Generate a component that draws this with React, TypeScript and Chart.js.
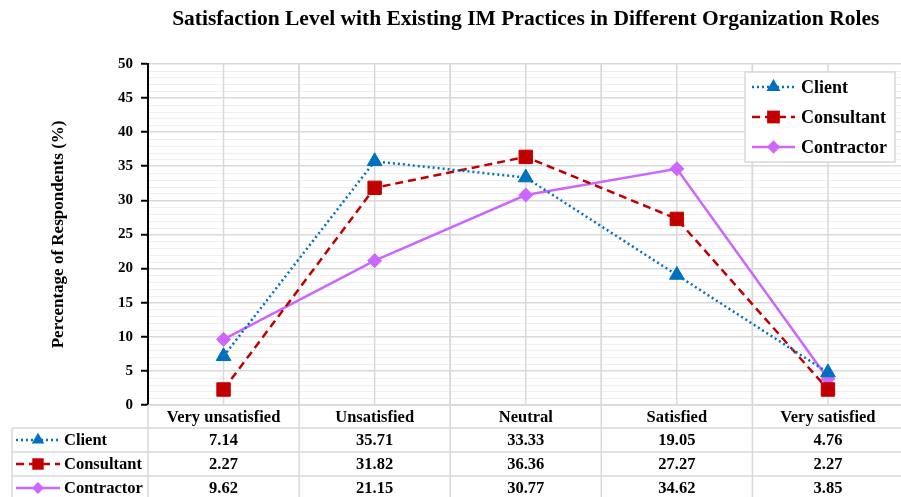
import React, { useEffect, useRef } from 'react';
import { Chart, registerables } from 'chart.js';

Chart.register(...registerables);

// ---------- data ----------
const categories = ['Very unsatisfied', 'Unsatisfied', 'Neutral', 'Satisfied', 'Very satisfied'];
const seriesNames = ['Client', 'Consultant', 'Contractor'];
const clientValues = [7.14, 35.71, 33.33, 19.05, 4.76];
const consultantValues = [2.27, 31.82, 36.36, 27.27, 2.27];
const contractorValues = [9.62, 21.15, 30.77, 34.62, 3.85];
const yMin = 0;
const yMax = 50;
const yMajorStep = 5;
const yMinorStep = 1;
const chartTitle = 'Satisfaction Level with Existing IM Practices in Different Organization Roles';
const yAxisTitle = 'Percentage of Respondents (%)';

const seriesValues = [clientValues, consultantValues, contractorValues];

// ---------- styles ----------
const FONT = '"Liberation Serif", "Times New Roman", serif';
const GRID = '#d9d9d9';
const MINOR = '#efefef';
const seriesStyles = [
  { color: '#0070C0', dash: [2, 3], point: 'triangle', radius: 8.5 },
  { color: '#C00000', dash: [8, 5], point: 'rect', radius: 9.5 },
  { color: '#CC66FF', dash: [] as number[], point: 'rectRot', radius: 7 },
];

function drawMarker(ctx: CanvasRenderingContext2D, kind: string, x: number, y: number, r: number, color: string) {
  ctx.save();
  ctx.fillStyle = color;
  ctx.beginPath();
  if (kind === 'triangle') {
    let rad = 0;
    for (let k = 0; k < 3; k++) {
      const px = x + Math.sin(rad) * r;
      const py = y - Math.cos(rad) * r;
      if (k === 0) ctx.moveTo(px, py); else ctx.lineTo(px, py);
      rad += (2 * Math.PI) / 3;
    }
    ctx.closePath();
  } else if (kind === 'rect') {
    const s = Math.SQRT1_2 * r;
    ctx.rect(x - s, y - s, 2 * s, 2 * s);
  } else {
    ctx.moveTo(x - r, y);
    ctx.lineTo(x, y - r);
    ctx.lineTo(x + r, y);
    ctx.lineTo(x, y + r);
    ctx.closePath();
  }
  ctx.fill();
  ctx.restore();
}

function drawSample(ctx: CanvasRenderingContext2D, i: number, x1: number, x2: number, y: number, scale: number) {
  const st = seriesStyles[i];
  ctx.save();
  ctx.strokeStyle = st.color;
  ctx.lineWidth = 2.5;
  ctx.setLineDash(st.dash);
  ctx.beginPath();
  ctx.moveTo(x1, y);
  ctx.lineTo(x2, y);
  ctx.stroke();
  ctx.restore();
  drawMarker(ctx, st.point, (x1 + x2) / 2, y, st.radius * scale, st.color);
}

const decorPlugin = {
  id: 'decor',
  beforeDraw(chart: any) {
    const { ctx, chartArea: a, scales } = chart;
    const y = scales.y;
    const x = scales.x;
    ctx.save();
    // minor horizontal grid
    ctx.strokeStyle = MINOR;
    ctx.lineWidth = 1;
    for (let v = yMin; v <= yMax; v += yMinorStep) {
      if (v % yMajorStep === 0) continue;
      const py = Math.round(y.getPixelForValue(v)) + 0.5;
      ctx.beginPath();
      ctx.moveTo(a.left, py);
      ctx.lineTo(a.right, py);
      ctx.stroke();
    }
    // vertical grid at category centers and boundaries
    const half = (x.getPixelForValue(1) - x.getPixelForValue(0)) / 2;
    ctx.strokeStyle = GRID;
    ctx.lineWidth = 1.5;
    for (let i = 0; i < categories.length; i++) {
      const c = x.getPixelForValue(i);
      for (const px of [c - half, c, c + half]) {
        ctx.beginPath();
        ctx.moveTo(px, a.top);
        ctx.lineTo(px, a.bottom);
        ctx.stroke();
      }
    }
    ctx.restore();
  },
  afterDatasetsDraw(chart: any) {
    const { ctx } = chart;
    // legend box
    const lx = 745, ly = 72, lw = 150, lh = 90;
    ctx.save();
    ctx.fillStyle = '#ffffff';
    ctx.fillRect(lx, ly, lw, lh);
    ctx.strokeStyle = GRID;
    ctx.lineWidth = 1.5;
    ctx.strokeRect(lx, ly, lw, lh);
    ctx.font = `bold 18px ${FONT}`;
    ctx.fillStyle = '#000';
    ctx.textBaseline = 'middle';
    ctx.textAlign = 'left';
    seriesNames.forEach((name, i) => {
      const ey = ly + 15 + i * 30;
      drawSample(ctx, i, lx + 7, lx + 50, ey, 0.95);
      ctx.fillStyle = '#000';
      ctx.fillText(name, lx + 56, ey + 1);
    });
    ctx.restore();
  },
  afterDraw(chart: any) {
    const { ctx, chartArea: a, scales } = chart;
    const x = scales.x;
    const half = (x.getPixelForValue(1) - x.getPixelForValue(0)) / 2;
    const top = a.bottom;
    const headerH = 23;
    const rowH = 24;
    const leftX = 12;
    const bottom = chart.height + 10;
    ctx.save();
    ctx.strokeStyle = GRID;
    ctx.lineWidth = 1.5;
    // horizontal lines
    ctx.beginPath();
    ctx.moveTo(a.left, top);
    ctx.lineTo(a.right, top);
    for (let k = 0; k <= seriesNames.length; k++) {
      const py = top + headerH + k * rowH;
      ctx.moveTo(leftX, py);
      ctx.lineTo(a.right, py);
    }
    // vertical lines
    ctx.moveTo(leftX, top + headerH);
    ctx.lineTo(leftX, bottom);
    for (let i = 0; i <= categories.length; i++) {
      const px = x.getPixelForValue(0) - half + i * 2 * half;
      ctx.moveTo(px, top);
      ctx.lineTo(px, bottom);
    }
    ctx.stroke();

    ctx.fillStyle = '#000';
    ctx.font = `bold 16.5px ${FONT}`;
    ctx.textBaseline = 'middle';
    ctx.textAlign = 'center';
    categories.forEach((c, i) => {
      ctx.fillText(c, x.getPixelForValue(i), top + headerH / 2 + 1);
    });
    seriesNames.forEach((name, s) => {
      const cy = top + headerH + s * rowH + rowH / 2;
      seriesValues[s].forEach((v, i) => {
        ctx.fillStyle = '#000';
        ctx.textAlign = 'center';
        ctx.fillText(v.toFixed(2), x.getPixelForValue(i), cy + 1);
      });
      drawSample(ctx, s, leftX + 4, leftX + 48, cy, 0.85);
      ctx.fillStyle = '#000';
      ctx.textAlign = 'left';
      ctx.fillText(name, leftX + 52, cy + 1);
    });
    ctx.restore();
  },
};

export default function App() {
  const ref = useRef<HTMLCanvasElement>(null);
  useEffect(() => {
    const canvas = ref.current;
    if (!canvas) return;
    const chart = new Chart(canvas, {
      type: 'line',
      data: {
        labels: categories,
        datasets: seriesNames.map((name, i) => ({
          label: name,
          data: seriesValues[i],
          borderColor: seriesStyles[i].color,
          backgroundColor: seriesStyles[i].color,
          pointBackgroundColor: seriesStyles[i].color,
          pointBorderColor: seriesStyles[i].color,
          borderDash: seriesStyles[i].dash,
          borderWidth: 2.5,
          pointStyle: seriesStyles[i].point as any,
          pointRadius: seriesStyles[i].radius,
          pointBorderWidth: 1,
          tension: 0,
          fill: false,
        })),
      },
      options: {
        responsive: false,
        animation: false,
        devicePixelRatio: 1,
        layout: { padding: { left: 0, right: 2, top: 0, bottom: 92 } },
        plugins: {
          legend: { display: false },
          tooltip: { enabled: false },
          title: {
            display: true,
            text: chartTitle,
            fullSize: false,
            color: '#000',
            font: { family: FONT, size: 21.5, weight: 'bold' },
            padding: { top: 7, bottom: 31 },
          },
        },
        scales: {
          x: { type: 'category', display: false, offset: true },
          y: {
            min: yMin,
            max: yMax,
            ticks: {
              stepSize: yMajorStep,
              color: '#000',
              font: { family: FONT, size: 15, weight: 'bold' },
              padding: 8,
            },
            grid: {
              color: GRID,
              lineWidth: 1.5,
              tickColor: '#000',
              tickLength: 7,
              tickWidth: 2,
            },
            border: { color: '#000', width: 2 },
            title: {
              display: true,
              text: yAxisTitle,
              color: '#000',
              font: { family: FONT, size: 17, weight: 'bold' },
              padding: { top: 48, bottom: 0 },
            },
            afterFit: (s: any) => {
              s.width = 148;
            },
          },
        },
      },
      plugins: [decorPlugin],
    });
    return () => chart.destroy();
  }, []);
  return (
    <div style={{ position: 'fixed', left: 0, top: 0, width: 901, height: 497, overflow: 'hidden', background: '#fff' }}>
      <canvas ref={ref} width={914} height={497} style={{ display: 'block' }} />
    </div>
  );
}
